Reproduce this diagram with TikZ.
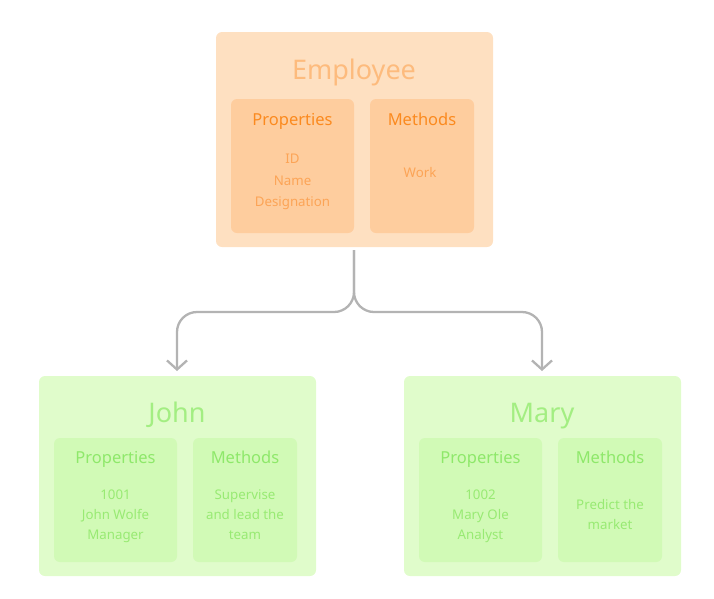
\documentclass[tikz,border=0pt]{standalone}
\usepackage{fontspec}
\setmainfont{Noto Sans}
\usetikzlibrary{arrows.meta}
\definecolor{oOuter}{HTML}{FEE0C1}
\definecolor{oInner}{HTML}{FECD9E}
\definecolor{oTitle}{HTML}{FDBB7D}
\definecolor{oHead}{HTML}{FB8A1F}
\definecolor{oItem}{HTML}{FCA456}
\definecolor{gOuter}{HTML}{E0FCCB}
\definecolor{gInner}{HTML}{D1FAB6}
\definecolor{gTitle}{HTML}{A3EE82}
\definecolor{gHead}{HTML}{8EE86A}
\definecolor{gItem}{HTML}{98EA73}
\definecolor{arrGray}{HTML}{B3B3B3}
\tikzset{
  boxbase/.style={rounded corners=6pt, inner sep=0pt, draw=none},
  outerO/.style={boxbase, fill=oOuter},
  innerO/.style={boxbase, fill=oInner},
  outerG/.style={boxbase, fill=gOuter},
  innerG/.style={boxbase, fill=gInner},
  txtbase/.style={inner sep=0pt, anchor=base},
  titletext/.style={txtbase, font=\fontsize{27}{32}\selectfont},
  headtext/.style={txtbase, font=\fontsize{16.5}{20}\selectfont},
  itemtext/.style={txtbase, font=\fontsize{13.3}{16}\selectfont},
  conn/.style={draw=arrGray, line width=2.3pt, rounded corners=20pt,
    -{Straight Barb[length=9pt,width=20pt,line width=2.3pt]},
    shorten <=3pt, shorten >=5pt}
}
\begin{document}
\begin{tikzpicture}[x=1pt,y=-1pt]
\useasboundingbox (0,0) rectangle (714,598);
% Employee
\node[outerO, minimum width=277pt, minimum height=215pt] (emp) at (354.5,139.5) {};
\node[titletext, text=oTitle] (empT) at (354,79.5) {Employee};
\node[innerO, minimum width=123pt, minimum height=134pt] (empP) at (292.5,166) {};
\node[innerO, minimum width=104pt, minimum height=134pt] (empM) at (422,166) {};
\node[headtext, text=oHead] (empPh) at (292.5,125.3) {Properties};
\node[headtext, text=oHead] (empMh) at (422,125.3) {Methods};
\node[itemtext, text=oItem] (empP1) at (292.5,163.2) {ID};
\node[itemtext, text=oItem] (empP2) at (292.5,185.5) {Name};
\node[itemtext, text=oItem] (empP3) at (292.5,206.8) {Designation};
\node[itemtext, text=oItem] (empM1) at (420,177.5) {Work};
% John
\node[outerG, minimum width=277pt, minimum height=200pt] (john) at (177.5,476) {};
\node[titletext, text=gTitle] (johnT) at (177,422.5) {John};
\node[innerG, minimum width=123pt, minimum height=124pt] (johnP) at (115.5,500) {};
\node[innerG, minimum width=104pt, minimum height=124pt] (johnM) at (245,500) {};
\node[headtext, text=gHead] (johnPh) at (115.5,463.7) {Properties};
\node[headtext, text=gHead] (johnMh) at (245,463.7) {Methods};
\node[itemtext, text=gItem] (johnP1) at (115.5,499.1) {1001};
\node[itemtext, text=gItem] (johnP2) at (115.5,519.1) {John Wolfe};
\node[itemtext, text=gItem] (johnP3) at (115.5,539.1) {Manager};
\node[itemtext, text=gItem] (johnM1) at (245,499.1) {Supervise};
\node[itemtext, text=gItem] (johnM2) at (245,519.1) {and lead the};
\node[itemtext, text=gItem] (johnM3) at (245,539.1) {team};
% Mary
\node[outerG, minimum width=277pt, minimum height=200pt] (mary) at (542.5,476) {};
\node[titletext, text=gTitle] (maryT) at (542,422.5) {Mary};
\node[innerG, minimum width=123pt, minimum height=124pt] (maryP) at (480.5,500) {};
\node[innerG, minimum width=104pt, minimum height=124pt] (maryM) at (610,500) {};
\node[headtext, text=gHead] (maryPh) at (480.5,463.7) {Properties};
\node[headtext, text=gHead] (maryMh) at (610,463.7) {Methods};
\node[itemtext, text=gItem] (maryP1) at (480.5,499.1) {1002};
\node[itemtext, text=gItem] (maryP2) at (480.5,519.1) {Mary Ole};
\node[itemtext, text=gItem] (maryP3) at (480.5,539.1) {Analyst};
\node[itemtext, text=gItem] (maryM1) at (610,509.1) {Predict the};
\node[itemtext, text=gItem] (maryM2) at (610,529.1) {market};
% connectors
\coordinate (fork) at (354,312);
\coordinate (jtop) at (177,376);
\coordinate (mtop) at (542,376);
\draw[conn] (emp.south -| fork) -- (fork) -| (jtop);
\draw[conn] (emp.south -| fork) -- (fork) -| (mtop);
\end{tikzpicture}
\end{document}
